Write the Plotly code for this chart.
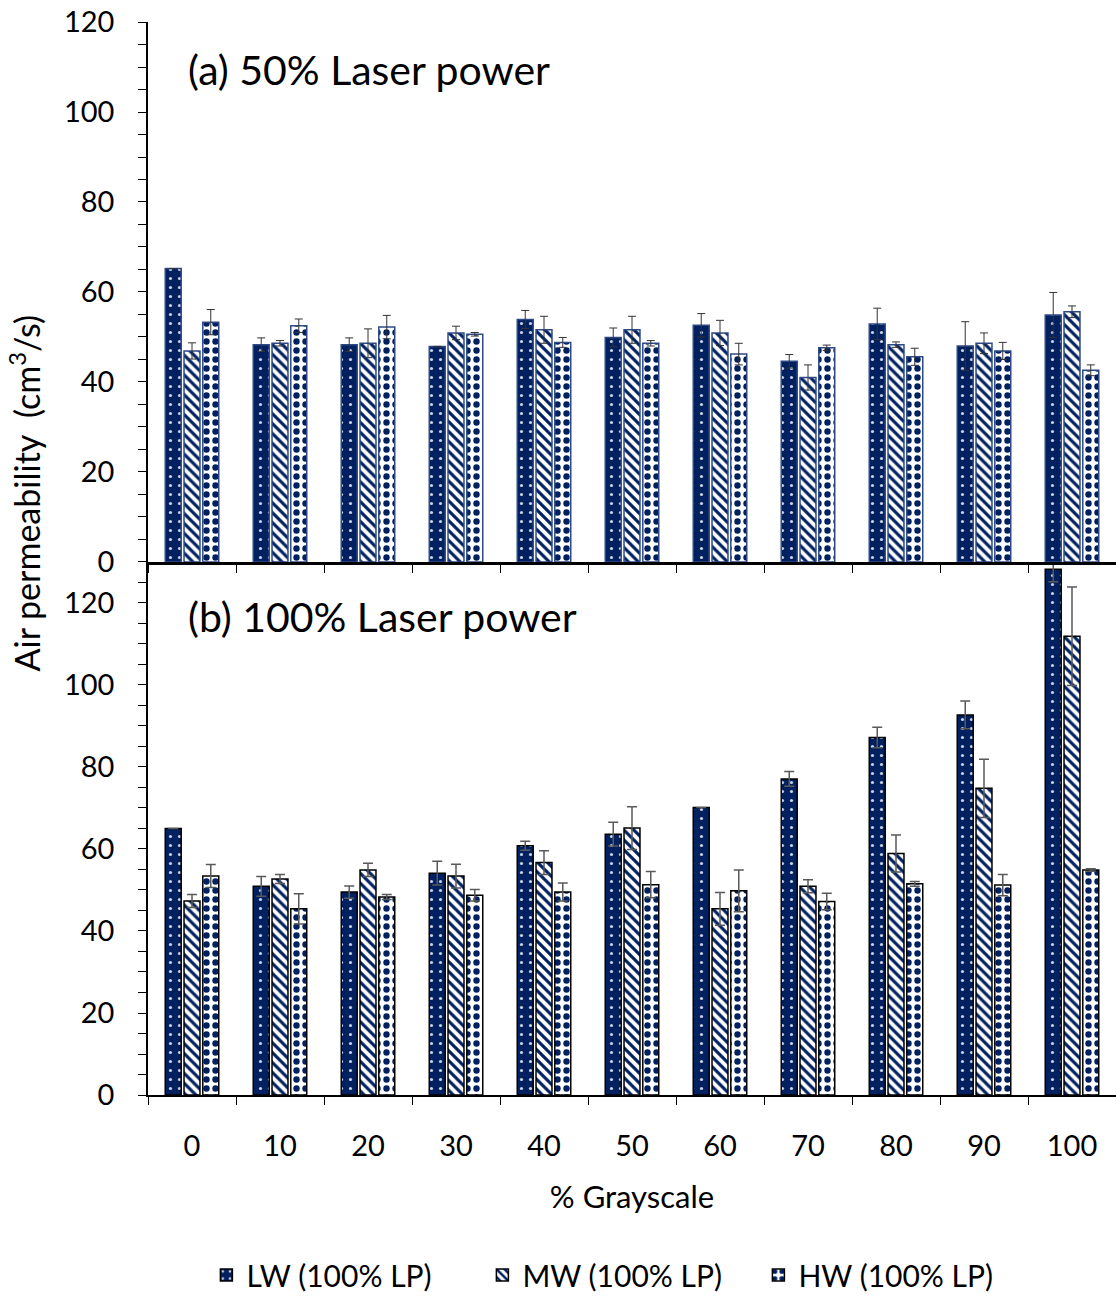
import plotly.graph_objects as go

categories = ["0", "10", "20", "30", "40", "50", "60", "70", "80", "90", "100"]
series_names = ["LW (100% LP)", "MW (100% LP)", "HW (100% LP)"]

# (a) 50% laser power
lw_50 = [65.2, 48.3, 48.3, 47.9, 53.9, 49.9, 52.6, 44.6, 52.9, 48.0, 54.9]
mw_50 = [46.9, 48.6, 48.6, 50.9, 51.6, 51.6, 50.9, 41.0, 48.3, 48.6, 55.6]
hw_50 = [53.3, 52.5, 52.2, 50.6, 48.8, 48.6, 46.2, 47.6, 45.6, 46.9, 42.6]
lw_50_err = [0.0, 1.5, 1.5, 0.0, 2.0, 2.1, 2.6, 1.5, 3.5, 5.4, 5.0]
mw_50_err = [1.8, 0.6, 3.2, 1.5, 3.0, 3.0, 2.8, 2.8, 0.6, 2.3, 1.3]
hw_50_err = [2.8, 1.5, 2.6, 0.4, 1.1, 0.6, 2.4, 0.6, 1.9, 1.9, 1.2]

# (b) 100% laser power
lw_100 = [65.0, 50.9, 49.5, 54.1, 60.8, 63.6, 70.1, 77.1, 87.2, 92.7, 128.2]
mw_100 = [47.3, 52.7, 54.9, 53.4, 56.7, 65.1, 45.4, 50.9, 58.9, 74.8, 111.9]
hw_100 = [53.4, 45.4, 48.3, 48.7, 49.5, 51.3, 49.8, 47.2, 51.5, 51.2, 54.9]
lw_100_err = [0.0, 2.4, 1.5, 2.9, 1.1, 2.9, 0.0, 1.8, 2.5, 3.4, 3.0]
mw_100_err = [1.6, 1.1, 1.6, 2.9, 2.9, 5.2, 4.0, 1.6, 4.5, 7.1, 12.0]
hw_100_err = [2.8, 3.7, 0.6, 1.4, 2.2, 3.2, 5.1, 2.0, 0.6, 2.6, 0.3]

y_ticks = [0, 20, 40, 60, 80, 100, 120]

NAVY = "#002060"
FONT = "Lato"

patterns = [
    dict(shape=".", fillmode="overlay", fgcolor="#C8D0E4", bgcolor=NAVY, fgopacity=1,
         size=9, solidity=0.1),
    dict(shape="\\", fillmode="overlay", fgcolor=NAVY, bgcolor="white", fgopacity=1,
         size=7, solidity=0.45),
    dict(shape=".", fillmode="overlay", fgcolor=NAVY, bgcolor="white", fgopacity=1,
         size=9, solidity=0.4),
]
base_colors = [NAVY, "white", "white"]

fig = go.Figure()

top_vals = [lw_50, mw_50, hw_50]
top_errs = [lw_50_err, mw_50_err, hw_50_err]
bot_vals = [lw_100, mw_100, hw_100]
bot_errs = [lw_100_err, mw_100_err, hw_100_err]

for i in range(3):
    fig.add_trace(go.Bar(
        x=categories, y=top_vals[i], name=series_names[i],
        marker=dict(color=base_colors[i], pattern=patterns[i],
                    line=dict(color="#2E4A86", width=1.5)),
        error_y=dict(type="data", array=top_errs[i], color="#333333", thickness=1, width=4),
        xaxis="x2", yaxis="y2", showlegend=False, offsetgroup=str(i),
    ))

for i in range(3):
    fig.add_trace(go.Bar(
        x=categories, y=bot_vals[i], name=series_names[i],
        marker=dict(color=base_colors[i], pattern=patterns[i],
                    line=dict(color="black", width=1.5)),
        error_y=dict(type="data", array=bot_errs[i], color="#595959", thickness=1.5, width=5),
        xaxis="x", yaxis="y", showlegend=True, offsetgroup=str(i),
    ))

split = (1101 - 565) / 1079.0

axis_common = dict(showline=True, linecolor="black", showgrid=False, zeroline=False)

fig.update_layout(
    width=1116, height=1301,
    margin=dict(l=148, r=0, t=22, b=200),
    paper_bgcolor="white", plot_bgcolor="white",
    font=dict(family=FONT, size=29, color="black"),
    barmode="group", bargap=0.36, bargroupgap=0.15,
    xaxis=dict(domain=[0, 1], anchor="y", type="category", tickson="boundaries",
               ticks="outside", ticklen=8, tickcolor="black", linewidth=1.5,
               tickfont=dict(size=29), ticklabelstandoff=24,
               title=dict(text="% Grayscale", font=dict(size=31), standoff=26),
               **axis_common),
    xaxis2=dict(domain=[0, 1], anchor="y2", type="category", tickson="boundaries",
                matches="x", ticks="outside", ticklen=8, tickcolor="black",
                linewidth=2.5, showticklabels=False, **axis_common),
    yaxis=dict(domain=[0, split], anchor="x", range=[0, 130], tickvals=y_ticks,
               ticks="outside", ticklen=8, tickcolor="black", linewidth=1.5,
               tickfont=dict(size=29), ticklabelstandoff=18,
               minor=dict(dtick=5, ticks="outside", ticklen=8, tickcolor="black"),
               **axis_common),
    yaxis2=dict(domain=[split, 1], anchor="x2", range=[0, 120], tickvals=y_ticks,
                ticks="outside", ticklen=8, tickcolor="black", linewidth=1.5,
                tickfont=dict(size=29), ticklabelstandoff=18,
                minor=dict(dtick=5, ticks="outside", ticklen=8, tickcolor="black"),
                **axis_common),
    legend=dict(orientation="h", x=0.488, xanchor="center", y=-0.168, yanchor="middle",
                font=dict(size=30), entrywidth=231, itemwidth=30, traceorder="normal"),
    annotations=[
        dict(text="Air permeability  (cm<sup>3</sup>/s)", xref="paper", yref="paper",
             x=-0.127, y=(1101 - 496) / 1079.0, textangle=-90, showarrow=False,
             font=dict(size=34), xanchor="center", yanchor="middle"),
        dict(text="(a) 50% Laser power", xref="paper", yref="paper",
             x=0.039, y=(1101 - 70) / 1079.0, showarrow=False,
             font=dict(size=41), xanchor="left", yanchor="middle"),
        dict(text="(b) 100% Laser power", xref="paper", yref="paper",
             x=0.039, y=(1101 - 620) / 1079.0, showarrow=False,
             font=dict(size=41), xanchor="left", yanchor="middle"),
    ],
)

fig.write_html("out.html")
